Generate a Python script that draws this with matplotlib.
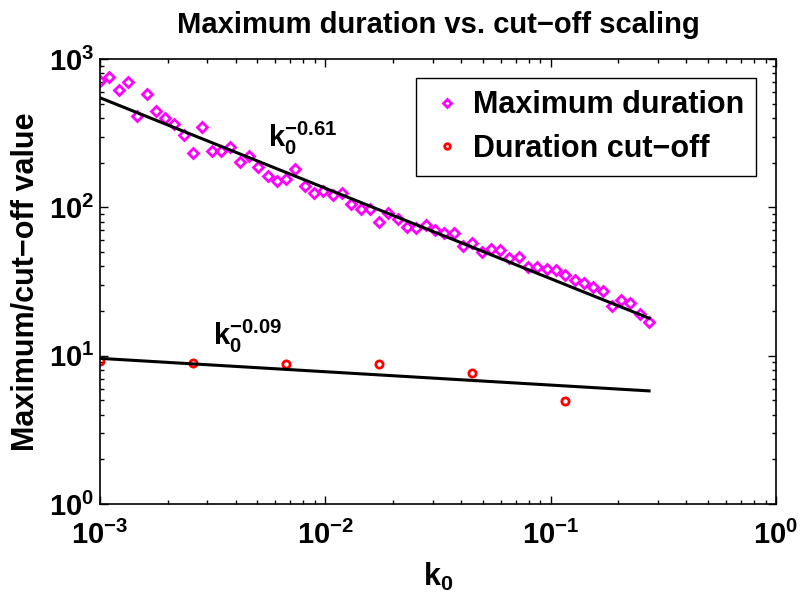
import matplotlib
matplotlib.use('Agg')
import numpy as np
import matplotlib.pyplot as plt

plt.rcParams['font.family'] = ['Liberation Sans', 'DejaVu Sans']
plt.rcParams['font.weight'] = 'bold'
plt.rcParams['axes.labelweight'] = 'bold'
plt.rcParams['mathtext.fontset'] = 'custom'
plt.rcParams['mathtext.rm'] = 'Liberation Sans:bold'
plt.rcParams['mathtext.it'] = 'Liberation Sans:bold'
plt.rcParams['mathtext.bf'] = 'Liberation Sans:bold'
plt.rcParams['mathtext.default'] = 'rm'

# cut-off parameter k0 (log-spaced)
k0 = [1.000e-3, 1.100e-3, 1.209e-3, 1.330e-3, 1.463e-3, 1.609e-3, 1.769e-3,
      1.946e-3, 2.140e-3, 2.353e-3, 2.588e-3, 2.847e-3, 3.131e-3, 3.443e-3,
      3.787e-3, 4.165e-3, 4.580e-3, 5.037e-3, 5.540e-3, 6.093e-3, 6.699e-3,
      7.368e-3, 8.103e-3, 8.911e-3, 9.799e-3, 1.078e-2, 1.185e-2, 1.303e-2,
      1.434e-2, 1.577e-2, 1.734e-2, 1.907e-2, 2.097e-2, 2.307e-2, 2.537e-2,
      2.790e-2, 3.068e-2, 3.374e-2, 3.711e-2, 4.081e-2, 4.487e-2, 4.935e-2,
      5.427e-2, 5.969e-2, 6.564e-2, 7.219e-2, 7.939e-2, 8.731e-2, 9.603e-2,
      0.1056, 0.1161, 0.1277, 0.1405, 0.1545, 0.1699, 0.1869, 0.2055,
      0.2260, 0.2486, 0.2734]

# maximum duration observed for each k0
max_duration = [714, 760, 618, 700, 413, 581, 446, 402, 365, 306,
                232, 348, 241, 241, 254, 201, 221, 188, 163, 150,
                155, 182, 140, 125, 129, 122, 125, 105, 97.9, 97.9,
                80.0, 91.1, 83.0, 74.0, 72.2, 76.0, 70.3, 66.8, 66.8, 54.8,
                57.7, 50.2, 52.1, 51.5, 45.7, 46.4, 39.8, 39.6, 38.2, 37.8,
                35.0, 32.3, 31.0, 29.1, 27.4, 21.6, 23.7, 22.5, 19.0, 16.9]

# duration cut-off, computed on a coarser k0 grid
k0_cut = [1.000e-3, 2.588e-3, 6.699e-3, 1.734e-2, 4.487e-2, 0.1161]
cutoff = [9.15, 8.87, 8.74, 8.74, 7.60, 4.97]

# power-law fits  y = c * k0^a
fit_max = (8.11, -0.61)
fit_cut = (5.15, -0.09)

k = np.array(k0)

fig = plt.figure(figsize=(8.01, 6.01), dpi=100)
ax = fig.add_axes([0.1248, 0.1614, 0.844, 0.7404])

ax.loglog(k0, max_duration, 'D', color='magenta', markerfacecolor='none',
          markersize=5.2, markeredgewidth=2.0, label='Maximum duration')
ax.loglog(k0_cut, cutoff, 'o', color='red', markerfacecolor='none',
          markersize=5.2, markeredgewidth=2.0, label='Duration cut\u2212off')
ax.loglog(k, fit_max[0] * k ** fit_max[1], 'k-', linewidth=2.2)
ax.loglog(k, fit_cut[0] * k ** fit_cut[1], 'k-', linewidth=2.2)

ax.text(5.57e-3, 218, r'$k_0^{%.2f}$' % fit_max[1], fontsize=21,
        ha='left', va='bottom')
ax.text(3.17e-3, 10.1, r'$k_0^{%.2f}$' % fit_cut[1], fontsize=21,
        ha='left', va='bottom')

ax.set_xlim(1e-3, 1)
ax.set_ylim(1, 1e3)

ax.set_title('Maximum duration vs. cut\u2212off scaling', fontsize=21,
             fontweight='bold', pad=19)
ax.set_xlabel(r'$k_0$', fontsize=22, labelpad=8)
ax.set_ylabel('Maximum/cut\u2212off value', fontsize=22, labelpad=6)

ax.tick_params(which='both', direction='in', top=True, right=True,
               labelsize=21, width=1.0)
ax.tick_params(which='major', length=6)
ax.tick_params(which='minor', length=3)
ax.tick_params(axis='x', pad=12)
ax.tick_params(axis='y', pad=4)
for s in ax.spines.values():
    s.set_linewidth(1.2)

leg = ax.legend(loc='upper right', bbox_to_anchor=(0.9704, 0.9573),
                borderaxespad=0, fontsize=22, numpoints=1, handlelength=1.2,
                handletextpad=0.25, borderpad=0.4, labelspacing=0.45,
                fancybox=False, edgecolor='black', framealpha=1)
leg.get_frame().set_linewidth(1.0)
for h in leg.legend_handles:
    h.set_markersize(4)

fig.savefig('out.png', dpi=100)
